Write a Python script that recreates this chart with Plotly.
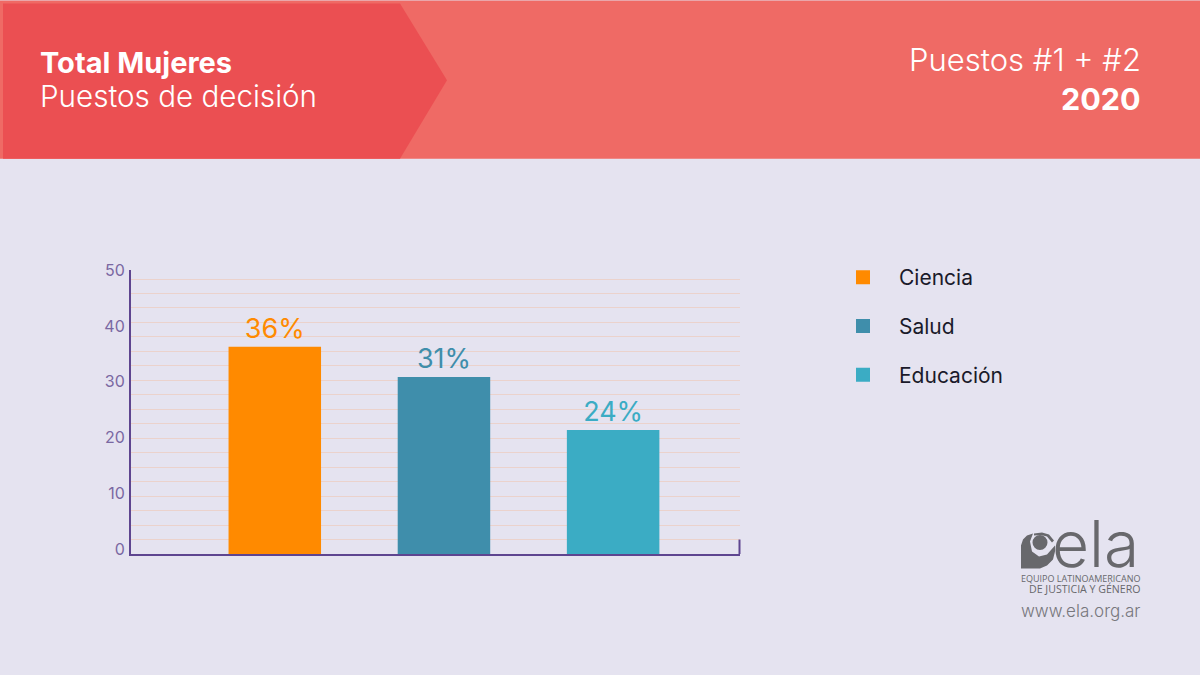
import plotly.graph_objects as go

categories = ["Ciencia", "Salud", "Educación"]
bar_tops = [36.1, 30.7, 21.2]
value_labels = ["36%", "31%", "24%"]
colors = ["#FF8A00", "#3F8EAB", "#3BACC4"]
tick_values = [0, 10, 20, 30, 40, 50]

W, H = 1200, 675
FONT = "Inter"
AXIS = "#5E4590"
GREY = "#68686C"
AXIS_FLOOR = -0.8
L, R, T, B = 131, 740, 270, 554.5


def px(x):
    return (x - L) / (R - L)


def py(y):
    return (B - y) / (B - T)


def path(points):
    return "M" + " L".join(f"{px(x):.5f},{py(y):.5f}" for x, y in points) + " Z"


def circle(cx, cy, r, color):
    return dict(type="circle", xref="paper", yref="paper", x0=px(cx - r), x1=px(cx + r),
                y0=py(cy + r), y1=py(cy - r), fillcolor=color, line_width=0, layer="above")


fig = go.Figure()
for cat, top, lab, col in zip(categories, bar_tops, value_labels, colors):
    fig.add_trace(go.Bar(
        x=[cat], y=[top - AXIS_FLOOR], base=AXIS_FLOOR, name=cat, width=0.535,
        marker=dict(color=col, line=dict(color=col, width=2)), text=[lab], textposition="outside",
        textfont=dict(color=col, size=27, family=FONT), cliponaxis=False,
        legendgroup=cat, hoverinfo="skip",
    ))

shapes = [
    dict(type="rect", xref="paper", yref="paper", x0=px(0), x1=px(W), y0=py(158.5), y1=py(0),
         fillcolor="#EF6A65", line_width=0, layer="below"),
    dict(type="path", xref="paper", yref="paper",
         path=path([(3, 3), (400, 3), (447, 80), (400, 158.5), (3, 158.5)]),
         fillcolor="#EB4F52", line_width=0, layer="below"),
    # closing end tick of the baseline
    dict(type="line", xref="paper", yref="paper", x0=px(739.5), x1=px(739.5), y0=py(554.5), y1=py(540),
         line=dict(color=AXIS, width=2), layer="above"),
    # logo mark
    dict(type="path", xref="paper", yref="paper",
         path=path([(1021, 569), (1021, 546), (1023, 540), (1027, 536), (1033, 534), (1030, 542),
                    (1032, 552), (1039, 557), (1047, 555), (1055, 546), (1055, 552), (1053, 560), (1047, 566), (1040, 569)]),
         fillcolor=GREY, line_width=0, layer="above"),
    circle(1040, 543, 7.5, GREY),
    dict(type="path", xref="paper", yref="paper",
         path=path([(1034, 534), (1042, 533), (1049, 535), (1054, 541), (1052, 543), (1047, 537), (1041, 535.5), (1034, 536)]),
         fillcolor=GREY, line_width=0, layer="above"),
]


def note(x, y, text, size, color, anchor="left", family=FONT, weight=None, align=None):
    fig.add_annotation(xref="paper", yref="paper", x=px(x), y=py(y), text=text, showarrow=False,
                       xanchor=anchor, yanchor="middle", align=align or anchor,
                       font=dict(size=size, color=color, family=family, weight=weight))


note(38, 62, "Total Mujeres", 29, "#FFFFFF", weight=700)
note(38, 96, "Puestos de decisión", 29.6, "#FFFFFF", weight=300)
note(1143, 59.5, "Puestos #1 + #2", 31, "#FFFFFF", anchor="right", weight=300)
note(1143, 98, "2020", 30.5, "#FFFFFF", anchor="right", weight=700)
note(1141, 544, "ela", 64, GREY, anchor="right", weight=300)
note(1142, 584.5,
     '<span style="font-size:9px">EQUIPO LATINOAMERICANO</span><br>'
     '<span style="font-size:10.6px">DE JUSTICIA Y GÉNERO</span>',
     8.6, GREY, anchor="right", family="Open Sans")
note(1142, 612, "www.ela.org.ar", 17, "#77777C", anchor="right", weight=300)

fig.update_layout(
    width=W, height=H, margin=dict(l=L, r=W - R, t=T, b=H - B, autoexpand=False),
    paper_bgcolor="#E5E3F0", plot_bgcolor="rgba(0,0,0,0)",
    barmode="overlay", shapes=shapes, font=dict(family=FONT),
    legend=dict(x=px(827), y=py(257), xanchor="left", yanchor="top", bgcolor="rgba(0,0,0,0)",
                font=dict(size=21, color="#1A1A2A", family=FONT), tracegroupgap=18.5, itemwidth=62,
                itemclick=False, itemdoubleclick=False),
    xaxis=dict(range=[-0.85, 2.75], showticklabels=False, ticks="",
               showgrid=False, zeroline=False, showline=True, linecolor=AXIS, linewidth=2,
               categoryorder="array", categoryarray=categories),
    yaxis=dict(range=[AXIS_FLOOR, 50], tickvals=tick_values,
               ticks="", showgrid=False, zeroline=False, showline=True, linecolor=AXIS, linewidth=2,
               tickfont=dict(size=16, color="#7A68A2", family=FONT), ticklabelstandoff=1,
               minor=dict(showgrid=True, gridcolor="#EBD2CC", gridwidth=1.4, dtick=2.589, tick0=AXIS_FLOOR)),
)
fig.write_html("out.html", config=dict(displayModeBar=False),
               post_script="document.body.style.margin='0';document.body.style.overflow='hidden';")
